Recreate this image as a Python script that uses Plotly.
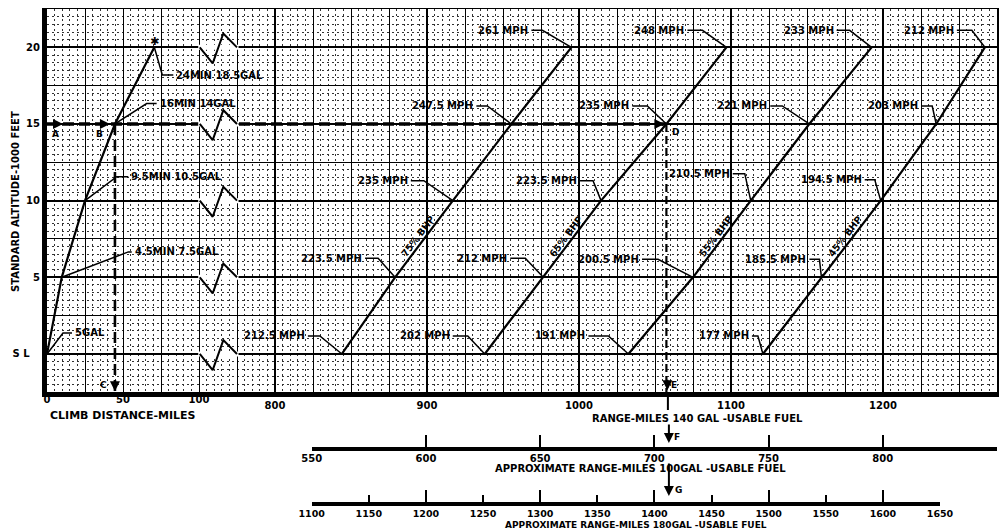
import numpy as np
import plotly.graph_objects as go

# ---------------- data ----------------
altitudes = [0, 5, 10, 15, 20]                 # standard altitude, 1000 ft (0 = sea level)
alt_ticktext = ["S L\u00a0\u00a0\u00a0", "5", "10", "15", "20"]

climb_dist = [0, 9.7, 25, 44.7, 70.6]          # climb distance, miles
climb_labels = ["5GAL", "4.5MIN 7.5GAL", "9.5MIN 10.5GAL", "16MIN 14GAL", "24MIN 18.5GAL"]

power_labels = ["75% BHP", "65% BHP", "55% BHP", "45% BHP"]
range_75 = [844, 879, 917, 955.5, 995]          # range miles, 140 gal usable fuel
range_65 = [938, 976.5, 1014.5, 1057.5, 1097]
range_55 = [1032.5, 1075, 1113, 1151.5, 1192.5]
range_45 = [1121, 1159.5, 1198.5, 1235, 1267]
tas_75 = [212.5, 223.5, 235, 247.5, 261]        # true airspeed, MPH
tas_65 = [202, 212, 223.5, 235, 248]
tas_55 = [191, 200.5, 210.5, 221, 233]
tas_45 = [177, 185.5, 194.5, 203, 212]

climb_ticks = [0, 50, 100]
range_ticks = [800, 900, 1000, 1100, 1200]
range100_ticks = [550, 600, 650, 700, 750, 800, 850]
range180_ticks = [1100, 1150, 1200, 1250, 1300, 1350, 1400, 1450, 1500, 1550, 1600, 1650]

example_i = 3        # 15,000 ft example
example_series = 1   # 65% BHP

# ---------------- layout constants ----------------
PAGE_OFF = 8                       # default body margin of the html page
W, H = 1007 - PAGE_OFF, 530 - PAGE_OFF
ML, MR, MT, MB = 47 - PAGE_OFF, 10, 9 - PAGE_OFF, 8
PW, PH = W - ML - MR, H - MT - MB
MAIN_BOTTOM_PX = 392.3             # page pixel of the main plot's bottom edge
X_RANGE = [650, 1275]
C_RANGE = [0, 625]
Y_RANGE = [-2.5, 22.5]


def paper_x(px):
    return (px - PAGE_OFF - ML) / PW


def paper_y(py):
    return (H - MB - (py - PAGE_OFF)) / PH


y_dom0 = paper_y(MAIN_BOTTOM_PX)
PXM = PW / (X_RANGE[1] - X_RANGE[0])
PXK = (MAIN_BOTTOM_PX - PAGE_OFF - MT) / (Y_RANGE[1] - Y_RANGE[0])

FONT = dict(family="DejaVu Sans", size=10, color="black", weight="bold")
SFONT = dict(family="DejaVu Sans", size=9, color="black", weight="bold")
TFONT = dict(family="DejaVu Sans", size=10, color="black", weight="bold")

# leader geometry in pixels: (kink dx, kink dy, horizontal length)
mph_leaders = [
    [(-22, -18, 12), (-17, -19, 13), (-29, -20, 13), (-24, -18, 11), (-29, -17, 11)],
    [(-17, -18, 15), (-18, -19, 15), (-8, -20, 13), (-19, -18, 15), (-24, -17, 15)],
    [(-20, -18, 20), (-35, -18, 16), (-6, -27, 12), (-27, -18, 12), (-22, -17, 13)],
    [(-5, -18, 6), (-2, -18, 10), (-6, -21, 10), (-4, -18, 11), (-13, -17, 15)],
]
climb_leaders = [(16, -21, 9), (66.6, -25.4, 3.4), (31.7, -24, 11.6), (31.7, -20.4, 10), (8, 27.7, 11)]

break_x = [100.5, 109, 116, 125]      # axis-break zigzag (climb-distance units)
break_dy = [0, -1.05, 0.9, 0]

series_ranges = [range_75, range_65, range_55, range_45]
series_tas = [tas_75, tas_65, tas_55, tas_45]

fig = go.Figure()
LINE = dict(color="black", width=2.2)

# dummy traces so that all helper axes are drawn
for xa, ya in [("x3", "y"), ("x", "y2"), ("x4", "y3"), ("x5", "y4"), ("x6", "y4")]:
    fig.add_trace(go.Scatter(x=[None], y=[None], xaxis=xa, yaxis=ya, mode="lines",
                             showlegend=False, hoverinfo="skip"))

# erase grid under break marks
ex_, ey_ = [], []
for a in altitudes:
    ex_ += [break_x[0] - 1, break_x[-1] + 1, None]
    ey_ += [a, a, None]
fig.add_trace(go.Scatter(x=ex_, y=ey_, xaxis="x2", yaxis="y", mode="lines",
                         line=dict(color="white", width=5), hoverinfo="skip"))

# example dashed path A-B-D, B-C, D-E
Dx = series_ranges[example_series][example_i]
Ealt = altitudes[example_i]
DASH = dict(color="black", width=3.4, dash="11px,5px")
fig.add_trace(go.Scatter(x=[X_RANGE[0], Dx], y=[Ealt, Ealt], xaxis="x", yaxis="y",
                         mode="lines", line=DASH, hoverinfo="skip"))
fig.add_trace(go.Scatter(x=[climb_dist[example_i]] * 2, y=[Ealt, Y_RANGE[0]], xaxis="x2", yaxis="y",
                         mode="lines", line=dict(color="black", width=2.6, dash="11px,5px"),
                         hoverinfo="skip"))
fig.add_trace(go.Scatter(x=[Dx, Dx], y=[Ealt, Y_RANGE[0]], xaxis="x", yaxis="y",
                         mode="lines", line=dict(color="black", width=2.2, dash="8px,4px"), hoverinfo="skip"))

# break zigzags
zx, zy = [], []
for a in altitudes:
    zx += break_x + [None]
    zy += [a + d for d in break_dy] + [None]
fig.add_trace(go.Scatter(x=zx, y=zy, xaxis="x2", yaxis="y", mode="lines",
                         line=dict(color="black", width=2), hoverinfo="skip"))

# climb curve
fig.add_trace(go.Scatter(x=climb_dist, y=altitudes, xaxis="x2", yaxis="y", mode="lines",
                         line=LINE, name="climb"))

# power-setting range lines
for rng, nm in zip(series_ranges, power_labels):
    fig.add_trace(go.Scatter(x=rng, y=altitudes, xaxis="x", yaxis="y", mode="lines",
                             line=LINE, name=nm))

annotations = []

# MPH labels with leaders
lx, ly = [], []
for s, (rng, tas) in enumerate(zip(series_ranges, series_tas)):
    for i, alt in enumerate(altitudes):
        kdx, kdy, hl = mph_leaders[s][i]
        kx = rng[i] + kdx / PXM
        ky = alt - kdy / PXK
        ex = kx - hl / PXM
        lx += [rng[i], kx, ex, None]
        ly += [alt, ky, ky, None]
        annotations.append(dict(x=ex, y=ky, xref="x", yref="y", text=f"{tas[i]:g} MPH",
                                showarrow=False, xanchor="right", yanchor="middle",
                                xshift=-1, font=FONT))
fig.add_trace(go.Scatter(x=lx, y=ly, xaxis="x", yaxis="y", mode="lines",
                         line=dict(color="black", width=1.5), hoverinfo="skip"))

# climb labels with leaders
cx, cy = [], []
for i, alt in enumerate(altitudes):
    kdx, kdy, hl = climb_leaders[i]
    kx = climb_dist[i] + kdx / PXM
    ky = alt - kdy / PXK
    ex = kx + hl / PXM
    cx += [climb_dist[i], kx, ex, None]
    cy += [alt, ky, ky, None]
    annotations.append(dict(x=ex, y=ky, xref="x2", yref="y", text=climb_labels[i],
                            showarrow=False, xanchor="left", yanchor="middle",
                            xshift=1, font=FONT))
fig.add_trace(go.Scatter(x=cx, y=cy, xaxis="x2", yaxis="y", mode="lines",
                         line=dict(color="black", width=1.5), hoverinfo="skip"))

# star at top of climb
annotations.append(dict(x=climb_dist[-1], y=altitudes[-1], xref="x2", yref="y", text="✱",
                        showarrow=False, yshift=6, font=dict(family="DejaVu Sans", size=11, color="black")))

# BHP labels along lines
lab_alt = 7.4
for rng, nm in zip(series_ranges, power_labels):
    xm = float(np.interp(lab_alt, altitudes, rng))
    dxp = (rng[2] - rng[1]) * PXM
    dyp = -(altitudes[2] - altitudes[1]) * PXK
    L = np.hypot(dxp, dyp)
    ux, uy = dxp / L, dyp / L
    nx, ny = uy, -ux
    off = 6.5
    ang = np.degrees(np.arctan2(-dyp, dxp))
    annotations.append(dict(x=xm, y=lab_alt, xref="x", yref="y", text=nm, showarrow=False,
                            textangle=-ang, xshift=nx * off, yshift=-ny * off,
                            font=dict(family="DejaVu Sans", size=9.5, color="black", weight="bold")))

# arrows
ARW = dict(showarrow=True, arrowhead=2, arrowsize=1, arrowwidth=2, arrowcolor="black", text="")
annotations += [
    dict(x=0, y=Ealt, xref="x2", yref="y", ax=-12, ay=0, xshift=16, **ARW),
    dict(x=climb_dist[example_i], y=Ealt, xref="x2", yref="y", ax=-12, ay=0, xshift=-5, **ARW),
    dict(x=Dx, y=Ealt, xref="x", yref="y", ax=-12, ay=0, xshift=-2, **ARW),
    dict(x=climb_dist[example_i], y=Y_RANGE[0], xref="x2", yref="y", ax=0, ay=-12, yshift=1, **ARW),
    dict(x=Dx, y=Y_RANGE[0], xref="x", yref="y", ax=0, ay=-12, yshift=2, xshift=1, **ARW),
    dict(x=Dx, y=paper_y(443), xref="x", yref="paper", ax=0, ay=-20, xshift=2.5, **ARW),
    dict(x=Dx, y=paper_y(496), xref="x", yref="paper", ax=0, ay=-34, xshift=2.5, **ARW),
    dict(x=Dx, y=paper_y(410), xref="x", yref="paper", ax=0, ay=-15, xshift=1.5,
         showarrow=True, arrowhead=0, arrowwidth=2, arrowcolor="black", text=""),
]

# letters
letters = [
    ("A", 0, Ealt, "x2", "y", 8, -10),
    ("B", climb_dist[example_i], Ealt, "x2", "y", -15, -10),
    ("C", climb_dist[example_i], Y_RANGE[0], "x2", "y", -11, 7),
    ("D", Dx, Ealt, "x", "y", 9, -8),
    ("E", Dx, Y_RANGE[0], "x", "y", 8, 7),
    ("F", Dx, paper_y(437), "x", "paper", 11, 0),
    ("G", Dx, paper_y(490), "x", "paper", 12, 0),
]
for t, x, y, xr, yr, xs, ys in letters:
    annotations.append(dict(x=x, y=y, xref=xr, yref=yr, text=t, showarrow=False,
                            xanchor="center", yanchor="middle",
                            xshift=xs, yshift=ys, font=SFONT))

# axis titles
annotations += [
    dict(x=paper_x(48), y=paper_y(415), xref="paper", yref="paper", xanchor="left", yanchor="middle",
         text="CLIMB DISTANCE-MILES", showarrow=False, font=dict(TFONT, size=11)),
    dict(x=paper_x(697), y=paper_y(418), xref="paper", yref="paper", xanchor="center", yanchor="middle",
         text="RANGE-MILES 140 GAL -USABLE FUEL", showarrow=False, font=TFONT),
    dict(x=paper_x(640), y=paper_y(468.5), xref="paper", yref="paper", xanchor="center", yanchor="middle",
         text="APPROXIMATE RANGE-MILES 100GAL -USABLE FUEL", showarrow=False, font=TFONT),
    dict(x=paper_x(636), y=paper_y(524.5), xref="paper", yref="paper", xanchor="center", yanchor="middle",
         text="APPROXIMATE RANGE-MILES 180GAL -USABLE FUEL", showarrow=False, font=dict(TFONT, size=9)),
    dict(x=paper_x(15), y=paper_y(202), xref="paper", yref="paper", xanchor="center", yanchor="middle",
         textangle=-90, text="STANDARD ALTITUDE-1000 FEET", showarrow=False, font=dict(TFONT, size=10)),
]

DOT = dict(showgrid=True, gridcolor="#333", gridwidth=1, griddash="2px,3px", ticks="")
scale_common = dict(showgrid=False, zeroline=False, showline=True, linewidth=3.5, automargin=False,
                    linecolor="black", ticks="inside", tickwidth=2, tickcolor="black")

s1y = paper_y(446.7)
s2y = paper_y(501.5)

fig.update_layout(
    width=W, height=H, margin=dict(l=ML, r=MR, t=MT, b=MB, autoexpand=False),
    paper_bgcolor="white", plot_bgcolor="rgba(0,0,0,0)", showlegend=False,
    annotations=annotations,
    xaxis=dict(domain=[0, 1], range=X_RANGE, anchor="y", tickmode="array", tickvals=range_ticks,
               ticktext=[str(v) for v in range_ticks], showgrid=True, gridcolor="black", gridwidth=2,
               showline=True, linewidth=5, linecolor="black", mirror=True, ticks="",
               zeroline=False, tickfont=FONT, automargin=False),
    xaxis2=dict(overlaying="x", range=C_RANGE, anchor="y", side="bottom", tickmode="array",
                tickvals=climb_ticks, ticktext=[str(v) for v in climb_ticks], showgrid=False,
                showline=False, zeroline=False, ticks="", tickfont=FONT, automargin=False),
    xaxis3=dict(overlaying="x", range=X_RANGE, anchor="y", tickmode="linear", tick0=0, dtick=25,
                showticklabels=False, ticks="", showgrid=True, gridcolor="black", gridwidth=1,
                zeroline=False, showline=False, automargin=False, minor=dict(tick0=0, dtick=5, **DOT)),
    yaxis=dict(domain=[y_dom0, 1], range=Y_RANGE, anchor="x", tickmode="array", tickvals=altitudes,
               ticktext=alt_ticktext, showgrid=True, gridcolor="black", gridwidth=2,
               showline=True, linewidth=5, linecolor="black", mirror=True, ticks="",
               zeroline=False, tickfont=FONT, automargin=False),
    yaxis2=dict(overlaying="y", range=Y_RANGE, anchor="x", tickmode="linear", tick0=0, dtick=2.5,
                showticklabels=False, ticks="", showgrid=True, gridcolor="black", gridwidth=1,
                zeroline=False, showline=False, automargin=False, minor=dict(tick0=0, dtick=0.5, **DOT)),
    yaxis3=dict(domain=[s1y, s1y + 0.03], range=[0, 1], visible=False, anchor="x4"),
    yaxis4=dict(domain=[s2y, s2y + 0.03], range=[0, 1], visible=False, anchor="x5"),
    xaxis4=dict(domain=[paper_x(311.7), 1.0], anchor="y3", range=[550, 850], tickfont=FONT,
                tickmode="array", tickvals=range100_ticks, ticklen=12, **scale_common),
    xaxis5=dict(domain=[paper_x(311.7), paper_x(940)], anchor="y4", range=[1100, 1650],
                tickfont=dict(FONT, size=9.5),
                tickmode="array", tickvals=range180_ticks, ticklen=7, **scale_common),
    xaxis6=dict(domain=[paper_x(311.7), paper_x(940)], anchor="y4", overlaying="x5", range=[1100, 1650],
                tickmode="array", tickvals=range180_ticks[::2], ticklen=12, automargin=False,
                showticklabels=False, showgrid=False, zeroline=False, showline=False,
                ticks="inside", tickwidth=2, tickcolor="black"),
)

fig.write_html("out.html")
